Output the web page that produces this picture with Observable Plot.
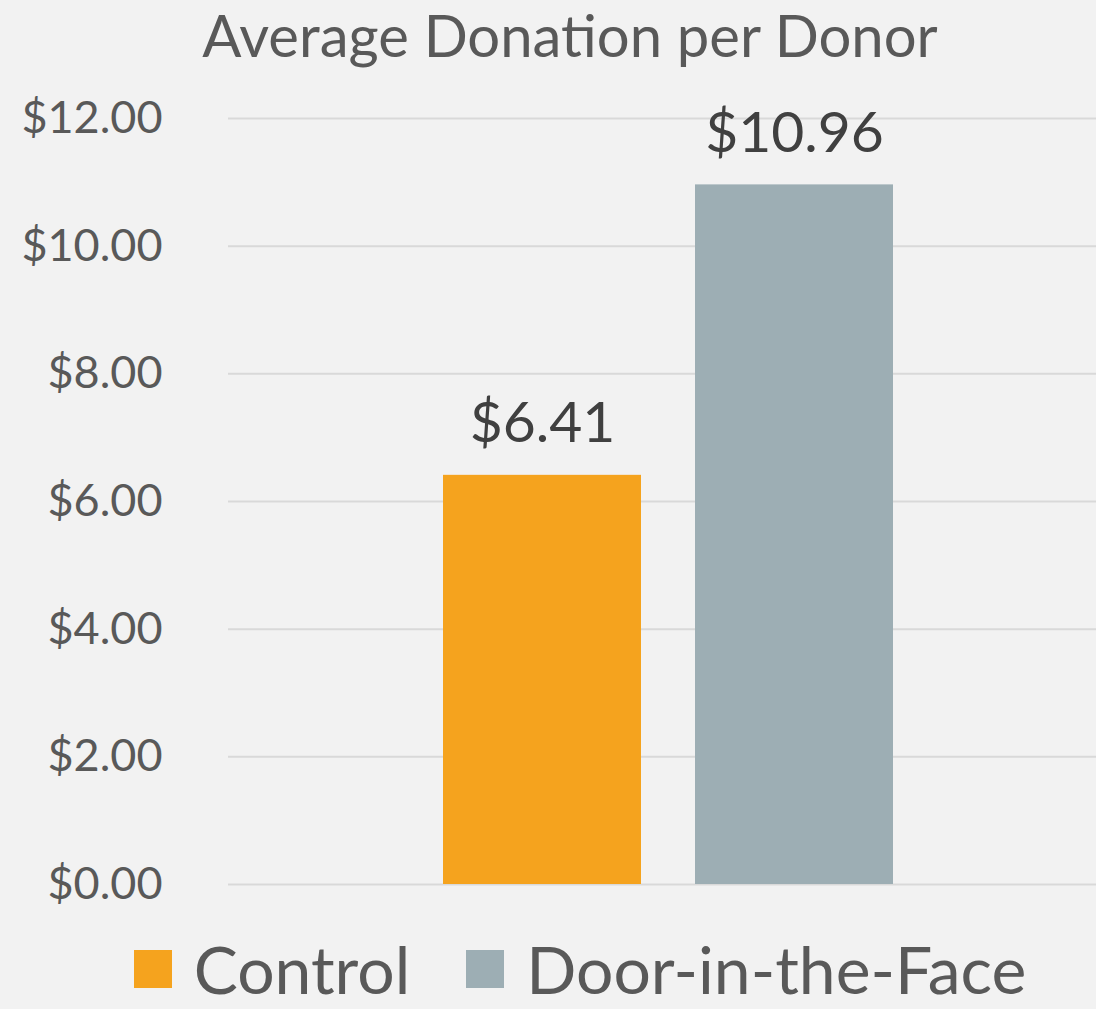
<!DOCTYPE html>
<html>
<head>
<meta charset="utf-8">
<script src="https://cdn.jsdelivr.net/npm/d3@7"></script>
<script src="https://cdn.jsdelivr.net/npm/@observablehq/plot@0.6"></script>
<style>
  html, body { margin: 0; padding: 0; background: #f2f2f2; }
  body { width: 1096px; height: 1009px; overflow: hidden; font-family: Lato, "Open Sans", sans-serif; }
  #title { height: 78px; line-height: 70px; font-size: 58px; color: #595959; text-align: center; padding-left: 44px; box-sizing: border-box; white-space: nowrap; }
  #chart { height: 860px; }
  #legend { height: 79px; margin-top: -9px; display: flex; align-items: flex-start; justify-content: center; padding-left: 64px; box-sizing: border-box; font-size: 66px; line-height: 1.2; color: #595959; white-space: nowrap; }
  .sw { display: inline-block; width: 38px; height: 38px; margin-right: 22px; }
  .item { display: flex; align-items: center; margin: 0 28px; }
</style>
</head>
<body>
<div id="title">Average Donation per Donor</div>
<div id="chart"></div>
<div id="legend"></div>
<script>
const groups = ["Control", "Door-in-the-Face"];
const values = [6.41, 10.96];
const colors = ["#F5A31E", "#9DAEB4"];
const yTicks = [0, 2, 4, 6, 8, 10, 12];

const data = groups.map((g, i) => ({group: g, value: values[i]}));
const fmt = v => "$" + v.toFixed(2);

const plot = Plot.plot({
  width: 1096,
  height: 860,
  marginLeft: 228,
  marginRight: 0,
  marginTop: 40,
  marginBottom: 54,
  style: {background: "#f2f2f2", fontFamily: "Lato, 'Open Sans', sans-serif", color: "#595959"},
  x: {type: "band", domain: groups, paddingInner: 0.213, paddingOuter: 0.822, align: 0.514, axis: null},
  y: {domain: [0, 12], ticks: yTicks},
  color: {domain: groups, range: colors},
  marks: [
    Plot.gridY(yTicks, {stroke: "#d9d9d9", strokeOpacity: 1, strokeWidth: 2}),
    Plot.axisY(yTicks, {tickSize: 0, tickPadding: 66, tickFormat: fmt, fontSize: 45, fill: "#595959", label: null}),
    Plot.barY(data, {x: "group", y: "value", fill: "group"}),
    Plot.text(data, {x: "group", y: "value", text: d => fmt(d.value), lineAnchor: "bottom", dy: -33, fontSize: 57, fill: "#404040"})
  ]
});
document.getElementById("chart").appendChild(plot);

const legend = document.getElementById("legend");
groups.forEach((g, i) => {
  const item = document.createElement("div");
  item.className = "item";
  const sw = document.createElement("span");
  sw.className = "sw";
  sw.style.background = colors[i];
  const t = document.createElement("span");
  t.textContent = g;
  item.appendChild(sw);
  item.appendChild(t);
  legend.appendChild(item);
});
</script>
</body>
</html>
